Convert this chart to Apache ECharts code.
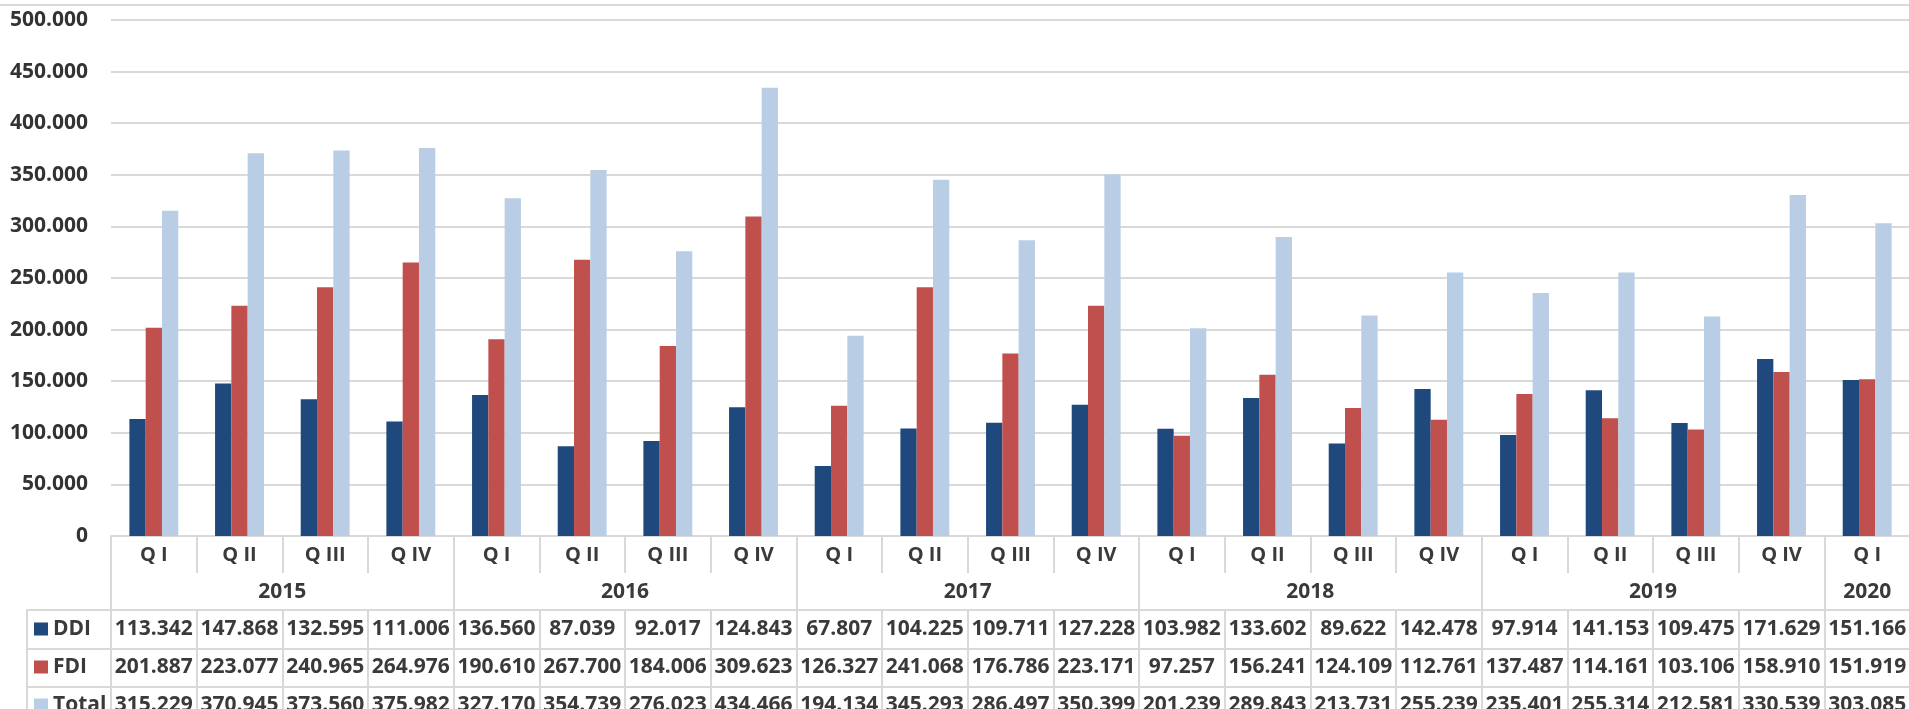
<!DOCTYPE html>
<html><head><meta charset="utf-8">
<script src="https://cdn.jsdelivr.net/npm/echarts@6/dist/echarts.min.js"></script>
<style>html,body{margin:0;padding:0;background:#fff;overflow:hidden}#c{width:1909px;height:709px}</style>
</head><body><div id="c"></div>
<script>
// ---- data ----
const quarters = ['Q I','Q II','Q III','Q IV','Q I','Q II','Q III','Q IV','Q I','Q II','Q III','Q IV','Q I','Q II','Q III','Q IV','Q I','Q II','Q III','Q IV','Q I'];
const years = ['2015','2016','2017','2018','2019','2020'];
const quartersPerYear = [4,4,4,4,4,1];
const ddi = [113342,147868,132595,111006,136560,87039,92017,124843,67807,104225,109711,127228,103982,133602,89622,142478,97914,141153,109475,171629,151166];
const fdi = [201887,223077,240965,264976,190610,267700,184006,309623,126327,241068,176786,223171,97257,156241,124109,112761,137487,114161,103106,158910,151919];
const total = [315229,370945,373560,375982,327170,354739,276023,434466,194134,345293,286497,350399,201239,289843,213731,255239,235401,255314,212581,330539,303085];
const seriesNames = ['DDI','FDI','Total'];
const seriesColors = ['#1F497D','#C0504D','#B9CDE5'];
const yMin = 0, yMax = 500000, yStep = 50000;

// ---- helpers ----
const fmt = v => String(v).replace(/\B(?=(\d{3})+(?!\d))/g, '.');
// year axis: half-quarter points (boundaryGap false), labels at group centers
const yearAxisData = new Array(quarters.length * 2 + 1).fill('');
const yearBoundaries = new Set([0]);
let pos = 0;
years.forEach((y, i) => {
  const n = quartersPerYear[i];
  yearAxisData[pos + n] = y;
  pos += n * 2;
  yearBoundaries.add(pos);
});

const GRID = '#d9d9d9';
const TXT = '#3a3a3a';
const tableFont = {fontFamily: 'Open Sans', fontWeight: 'bold', fontSize: 21, color: TXT};
const headFont = {fontFamily: 'Open Sans', fontWeight: 'bold', fontSize: 20, color: TXT};
const yearFont = {fontFamily: 'Open Sans', fontWeight: 'bold', fontSize: 21, color: TXT};

function rowAxis(values, offset, tickLen, margin) {
  return {
    type: 'category', gridIndex: 0, position: 'bottom', offset: offset,
    data: values.map(fmt),
    axisLine: {show: true, lineStyle: {color: GRID, width: 2}},
    axisTick: {show: true, interval: 0, length: tickLen, lineStyle: {color: GRID, width: 2}},
    axisLabel: Object.assign({interval: 0, margin: margin, verticalAlign: 'middle', hideOverlap: false}, tableFont),
    splitLine: {show: false}
  };
}
const legendTops = [617, 655, 693];
const legends = seriesNames.map((n, i) => ({
  orient: 'horizontal', left: 34, top: legendTops[i], padding: 0,
  itemWidth: 14, itemHeight: 13, selectedMode: false, icon: 'rect',
  textStyle: Object.assign({lineHeight: 24}, tableFont),
  data: [n]
}));

const chart = echarts.init(document.getElementById('c'), null, {renderer: 'canvas'});
chart.setOption({
  animation: false,
  backgroundColor: '#fff',
  grid: {left: 111, top: 20, width: 1799, bottom: 173, containLabel: false, outerBoundsMode: 'none'},
  legend: legends,
  xAxis: [
    {
      type: 'category', gridIndex: 0, position: 'bottom', data: quarters,
      axisLine: {show: true, lineStyle: {color: GRID, width: 2}},
      axisTick: {show: true, interval: 0, length: 37, lineStyle: {color: GRID, width: 2}},
      axisLabel: Object.assign({interval: 0, margin: 19, verticalAlign: 'middle'}, headFont),
      splitLine: {show: false}
    },
    {
      type: 'category', gridIndex: 0, position: 'bottom', boundaryGap: false, data: yearAxisData,
      axisLine: {show: false},
      axisTick: {show: true, length: 73, interval: (i) => yearBoundaries.has(i), lineStyle: {color: GRID, width: 2}},
      axisLabel: Object.assign({interval: 0, margin: 56, verticalAlign: 'middle'}, yearFont),
      splitLine: {show: false}
    },
    rowAxis(ddi, 74, 39, 19),
    rowAxis(fdi, 113, 38, 18),
    rowAxis(total, 151, 40, 18)
  ],
  yAxis: {
    type: 'value', min: yMin, max: yMax, interval: yStep,
    axisLine: {show: false}, axisTick: {show: false},
    axisLabel: {margin: 23, formatter: v => fmt(v), fontFamily: 'Open Sans', fontWeight: 'bold', fontSize: 21, color: '#333'},
    splitLine: {show: true, lineStyle: {color: GRID, width: 2}}
  },
  series: [
    {name: seriesNames[0], type: 'bar', data: ddi, barWidth: 16.3, barGap: '0%', itemStyle: {color: seriesColors[0]}},
    {name: seriesNames[1], type: 'bar', data: fdi, barWidth: 16.3, barGap: '0%', itemStyle: {color: seriesColors[1]}},
    {name: seriesNames[2], type: 'bar', data: total, barWidth: 16.3, barGap: '0%', itemStyle: {color: seriesColors[2]}}
  ],
  graphic: [
    {type: 'line', shape: {x1: 0, y1: 5, x2: 1909, y2: 5}, style: {stroke: GRID, lineWidth: 2}, silent: true},
    {type: 'line', shape: {x1: 26, y1: 610, x2: 112, y2: 610}, style: {stroke: GRID, lineWidth: 2}, silent: true},
    {type: 'line', shape: {x1: 26, y1: 649, x2: 112, y2: 649}, style: {stroke: GRID, lineWidth: 2}, silent: true},
    {type: 'line', shape: {x1: 26, y1: 687, x2: 112, y2: 687}, style: {stroke: GRID, lineWidth: 2}, silent: true},
    {type: 'line', shape: {x1: 27, y1: 609, x2: 27, y2: 709}, style: {stroke: GRID, lineWidth: 2}, silent: true}
  ]
});
</script></body></html>
